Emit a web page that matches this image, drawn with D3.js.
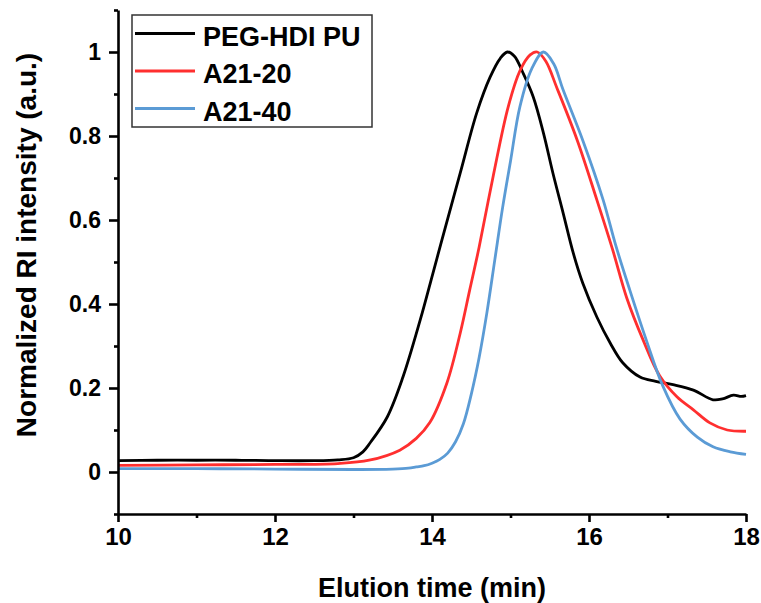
<!DOCTYPE html>
<html>
<head>
<meta charset="utf-8">
<script src="https://cdn.jsdelivr.net/npm/d3@7/dist/d3.min.js"></script>
<style>
    body { margin: 0; background: #fff; }
    text { font-family: "Liberation Sans", Arial, sans-serif; font-weight: bold; fill: #000; }
</style>
</head>
<body>
<div id="chart"></div>
<script>
'use strict';

// elution time (min), normalized RI intensity
let pegHdiPu = [
    [10.0, 0.027], [10.5, 0.028], [11.0, 0.028], [11.5, 0.028], [12.0, 0.027],
    [12.5, 0.027], [12.8, 0.029], [13.0, 0.034], [13.12, 0.048], [13.21, 0.069],
    [13.43, 0.131], [13.63, 0.226], [13.85, 0.362], [14.01, 0.472], [14.13, 0.555],
    [14.36, 0.712], [14.57, 0.855], [14.74, 0.94], [14.87, 0.985], [14.96, 1.0],
    [15.05, 0.99], [15.16, 0.95], [15.29, 0.893], [15.42, 0.807], [15.54, 0.712],
    [15.67, 0.617], [15.80, 0.521], [15.92, 0.45], [16.10, 0.369], [16.27, 0.307],
    [16.43, 0.26], [16.65, 0.226], [16.85, 0.216], [17.07, 0.208], [17.33, 0.195],
    [17.58, 0.172], [17.70, 0.174], [17.84, 0.183], [17.94, 0.180], [18.0, 0.182]
];

let a2120 = [
    [10.0, 0.016], [11.0, 0.017], [12.0, 0.018], [12.8, 0.020], [13.2, 0.028],
    [13.59, 0.052], [13.8, 0.08], [13.97, 0.117], [14.19, 0.212], [14.36, 0.331],
    [14.48, 0.433], [14.60, 0.535], [14.78, 0.705], [14.97, 0.869], [15.12, 0.955],
    [15.25, 0.993], [15.34, 1.0], [15.45, 0.978], [15.59, 0.915], [15.85, 0.79],
    [16.10, 0.648], [16.30, 0.53], [16.48, 0.415], [16.69, 0.314], [16.90, 0.229],
    [17.12, 0.179], [17.33, 0.148], [17.54, 0.117], [17.76, 0.10], [18.0, 0.097]
];

let a2140 = [
    [10.0, 0.008], [11.0, 0.008], [12.0, 0.007], [13.0, 0.006], [13.5, 0.007],
    [13.7, 0.009], [13.8, 0.012], [13.9, 0.015], [14.0, 0.021], [14.1, 0.03],
    [14.2, 0.045], [14.3, 0.072], [14.4, 0.115], [14.5, 0.185], [14.6, 0.272],
    [14.7, 0.38], [14.8, 0.505], [14.9, 0.63], [15.0, 0.74], [15.12, 0.87],
    [15.27, 0.96], [15.42, 1.0], [15.55, 0.972], [15.67, 0.91], [15.92, 0.79],
    [16.18, 0.648], [16.34, 0.54], [16.52, 0.433], [16.73, 0.314], [16.94, 0.205],
    [17.16, 0.126], [17.38, 0.083], [17.58, 0.06], [17.80, 0.048], [18.0, 0.042]
];

let seriesNames = ['PEG-HDI PU', 'A21-20', 'A21-40'];
let seriesColors = ['#000000', '#ff2f2f', '#5b9bd5'];

let xTicks = [10, 12, 14, 16, 18];
let xMinorTicks = [11, 13, 15, 17];
let yTicks = [0, 0.2, 0.4, 0.6, 0.8, 1];
let yTickLabels = ['0', '0.2', '0.4', '0.6', '0.8', '1'];
let yMinorTicks = [-0.1, 0.1, 0.3, 0.5, 0.7, 0.9, 1.1];

draw();

function draw() {
    let width = 761, height = 603;
    let left = 118, right = 746, top = 10, bottom = 514;

    let svg = d3.select('#chart')
        .append('svg')
        .attr('width', width)
        .attr('height', height);

    let x = d3.scaleLinear().domain([10, 18]).range([left, right]);
    let y = d3.scaleLinear().domain([-0.1, 1.1]).range([bottom, top]);

    let line = d3.line()
        .x(d => x(d[0]))
        .y(d => y(d[1]))
        .curve(d3.curveCatmullRom.alpha(0.5));

    let allSeries = [pegHdiPu, a2120, a2140];

    svg.selectAll('path.series')
        .data(allSeries)
        .enter()
        .append('path')
        .attr('class', 'series')
        .attr('d', line)
        .attr('fill', 'none')
        .attr('stroke', (d, i) => seriesColors[i])
        .attr('stroke-width', 2.8)
        .attr('stroke-linejoin', 'round');

    // axes
    let xAxis = svg.append('g')
        .attr('transform', 'translate(0,' + bottom + ')')
        .call(d3.axisBottom(x).tickValues(xTicks).tickSize(8).tickSizeOuter(0).tickPadding(6));
    svg.append('g')
        .attr('transform', 'translate(0,' + bottom + ')')
        .call(d3.axisBottom(x).tickValues(xMinorTicks).tickSize(4).tickFormat(''))
        .select('.domain').remove();

    let yAxis = svg.append('g')
        .attr('transform', 'translate(' + left + ',0)')
        .call(d3.axisLeft(y).tickValues(yTicks).tickSize(9).tickSizeOuter(0).tickPadding(8)
            .tickFormat((d, i) => yTickLabels[i]));
    svg.append('g')
        .attr('transform', 'translate(' + left + ',0)')
        .call(d3.axisLeft(y).tickValues(yMinorTicks).tickSize(4).tickFormat(''))
        .select('.domain').remove();

    svg.selectAll('.domain, .tick line')
        .attr('stroke', '#000')
        .attr('stroke-width', 2.6);

    xAxis.selectAll('.tick text')
        .style('font-size', '24px')
        .attr('dy', '0.71em');
    yAxis.selectAll('.tick text')
        .style('font-size', '23px');

    // axis titles
    svg.append('text')
        .attr('x', (left + right) / 2)
        .attr('y', 597)
        .attr('text-anchor', 'middle')
        .style('font-size', '27px')
        .text('Elution time (min)');

    svg.append('text')
        .attr('transform', 'translate(36,245) rotate(-90)')
        .attr('text-anchor', 'middle')
        .style('font-size', '28px')
        .text('Normalized RI intensity (a.u.)');

    // legend
    let legend = svg.append('g');
    legend.append('rect')
        .attr('x', 132)
        .attr('y', 15)
        .attr('width', 240)
        .attr('height', 112)
        .attr('fill', '#fff')
        .attr('stroke', '#333')
        .attr('stroke-width', 1.5);

    let rows = legend.selectAll('g.row')
        .data(seriesNames)
        .enter()
        .append('g')
        .attr('class', 'row')
        .attr('transform', (d, i) => 'translate(0,' + (33.5 + i * 37.5) + ')');

    rows.append('line')
        .attr('x1', 135)
        .attr('x2', 195)
        .attr('stroke', (d, i) => seriesColors[i])
        .attr('stroke-width', 2.8);

    rows.append('text')
        .attr('x', 203)
        .attr('y', 12)
        .style('font-size', '27px')
        .text(d => d);
}
</script>
</body>
</html>
